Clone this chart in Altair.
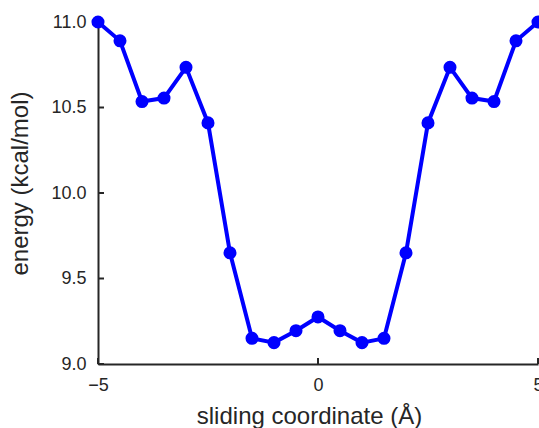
import altair as alt
import pandas as pd

x_vals = [-5.0, -4.5, -4.0, -3.5, -3.0, -2.5, -2.0, -1.5, -1.0, -0.5, 0.0,
          0.5, 1.0, 1.5, 2.0, 2.5, 3.0, 3.5, 4.0, 4.5, 5.0]
energy = [11.0, 10.89, 10.535, 10.555, 10.735, 10.41, 9.65, 9.15, 9.125, 9.195, 9.275,
          9.195, 9.125, 9.15, 9.65, 10.41, 10.735, 10.555, 10.535, 10.89, 11.0]
x_ticks = [-5, 0, 5]
y_ticks = [9.0, 9.5, 10.0, 10.5, 11.0]

df = pd.DataFrame({"x": x_vals, "y": energy})
xt = pd.DataFrame({"x": x_ticks})
yt = pd.DataFrame({"y": y_ticks})

FONT = "Liberation Sans"
AX = "#262626"

xscale = alt.Scale(domain=[-5, 5], nice=False, zero=False)
yscale = alt.Scale(domain=[9.0, 11.0], nice=False, zero=False)

xaxis = alt.Axis(values=x_ticks, format="d", ticks=False, grid=False,
                 domainColor=AX, domainWidth=2, labelFont=FONT, labelFontSize=18,
                 labelColor=AX, labelPadding=12, title="sliding coordinate (Å)",
                 titleFont=FONT, titleFontSize=24, titleFontWeight="normal",
                 titleColor=AX, titleX=211, titleY=40, titleBaseline="top",
                 labelFlush=False)
yaxis = alt.Axis(values=y_ticks, format=".1f", ticks=False, grid=False,
                 domainColor=AX, domainWidth=2, labelFont=FONT, labelFontSize=18,
                 labelColor=AX, labelPadding=12, title="energy (kcal/mol)",
                 titleFont=FONT, titleFontSize=24, titleFontWeight="normal",
                 titleColor=AX, titleX=-66, titleY=161, titleAngle=270,
                 titleBaseline="bottom", labelFlush=False)

base = alt.Chart(df)
line = base.mark_line(color="#0000FF", strokeWidth=4, clip=False).encode(
    x=alt.X("x:Q", scale=xscale, axis=xaxis),
    y=alt.Y("y:Q", scale=yscale, axis=yaxis),
)
pts = base.mark_circle(color="#0000FF", size=170, opacity=1, clip=False).encode(
    x=alt.X("x:Q", scale=xscale),
    y=alt.Y("y:Q", scale=yscale),
)
ytick = alt.Chart(yt).mark_rule(color=AX, strokeWidth=2).encode(
    y=alt.Y("y:Q", scale=yscale), x=alt.value(0), x2=alt.value(6)
)
xtick = alt.Chart(xt).mark_rule(color=AX, strokeWidth=2).encode(
    x=alt.X("x:Q", scale=xscale), y=alt.value(342), y2=alt.value(336)
)

chart = alt.layer(ytick, xtick, line, pts).properties(
    width=440, height=342,
    autosize=alt.AutoSizeParams(type="none"),
    padding={"left": 98, "top": 22, "right": 1, "bottom": 64},
).configure_view(stroke=None)

chart.save("out.html", embed_options={"renderer": "svg", "actions": False})
